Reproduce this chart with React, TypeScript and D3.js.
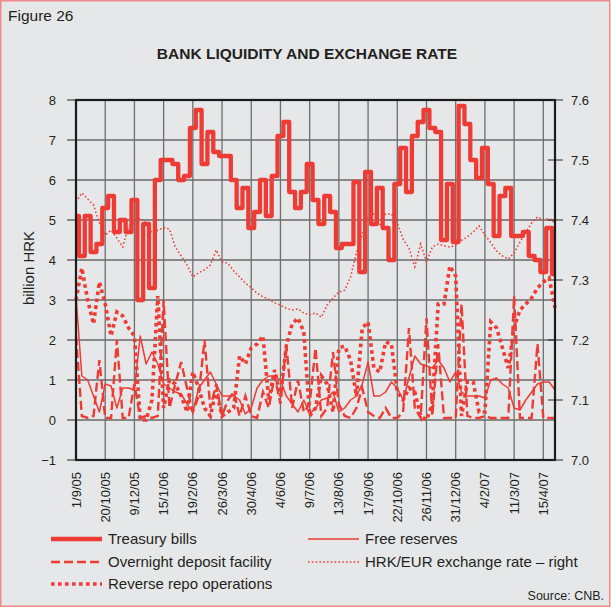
import React from 'react';
import * as d3 from 'd3';

// x-axis: categorical positions, tick every 5 observations
const dateLabels = ['1/9/05', '20/10/05', '9/12/05', '15/1/06', '19/2/06', '26/3/06', '30/4/06', '4/6/06', '9/7/06', '13/8/06', '17/9/06', '22/10/06', '26/11/06', '31/12/06', '4/2/07', '11/3/07', '15/4/07'];
const leftTicks = [-1, 0, 1, 2, 3, 4, 5, 6, 7, 8];
const rightTicks = [7.0, 7.1, 7.2, 7.3, 7.4, 7.5, 7.6];

// billion HRK
const treasuryBills = [
  5.1, 4.1, 5.1, 4.2, 4.4, 5.3, 5.6, 4.7, 5.0, 4.7,
  5.5, 3.0, 4.9, 3.3, 6.0, 6.5, 6.5, 6.4, 6.0, 6.1,
  7.3, 7.75, 6.4, 7.2, 6.7, 6.6, 6.6, 6.0, 5.3, 5.8,
  4.8, 5.2, 6.0, 5.1, 6.1, 7.1, 7.45, 5.7, 5.3, 5.7,
  6.4, 5.5, 4.9, 5.6, 5.2, 4.3, 4.4, 4.4, 5.95, 3.7,
  6.2, 4.9, 5.8, 4.8, 4.0, 5.9, 6.8, 5.7, 7.1, 7.45,
  7.75, 7.3, 7.2, 4.5, 5.9, 4.45, 7.85, 7.4, 6.5, 6.05,
  6.8, 5.9, 4.6, 5.6, 5.8, 4.6, 4.6, 4.7, 4.1, 4.0,
  3.7, 4.8, 3.65,
];
const freeReserves = [
  3.1, 1.1, 1.0, 0.6, 0.2, 0.9, 0.85, 0.3, 0.8, 0.8,
  0.75, 2.1, 1.4, 1.7, 1.4, 0.9, 0.8, 0.7, 0.65, 0.4,
  0.2, 0.8, 1.0, 1.2, 0.9, 0.6, 0.6, 0.6, 0.5, 0.15,
  0.3, 0.8, 1.0, 1.1, 1.1, 1.0, 0.6, 0.4, 0.2, 0.5,
  0.15, 0.3, 0.5, 0.55, 0.7, 0.2, 0.3, 0.5, 0.6, 0.9,
  1.45, 0.6, 0.6, 0.7, 0.95, 0.8, 0.5, 1.05, 1.6, 1.4,
  1.35, 1.3, 1.5, 1.3, 0.95, 1.2, 0.7, 0.6, 0.6, 0.6,
  0.55, 1.0, 1.05, 0.9, 0.8, 0.3, 0.25, 0.5, 0.7, 0.9,
  0.95, 0.95, 0.75,
];
const overnightDeposit = [
  2.1, 0.1, 0.05, 0.1, 1.5, 0.05, 0.05, 2.0, 0.05, 0.05,
  0.9, 0.05, 0.1, 0.05, 0.1, 3.0, 0.3, 0.9, 1.45, 0.8,
  0.2, 0.6, 2.0, 0.3, 0.9, 0.1, 0.5, 0.7, 0.1, 0.6,
  0.1, 0.05, 0.7, 0.3, 1.1, 0.4, 1.9, 0.3, 1.0, 0.2,
  0.4, 1.8, 0.1, 0.3, 1.7, 0.4, 0.1, 0.05, 0.3, 0.8,
  0.2, 0.1, 0.05, 0.3, 0.05, 0.05, 0.2, 2.3, 0.3, 0.05,
  2.55, 0.1, 1.9, 0.05, 0.05, 0.05, 2.9, 0.1, 0.05, 0.05,
  0.1, 0.05, 0.05, 0.05, 0.05, 3.1, 0.05, 0.05, 0.05, 1.9,
  0.05, 0.05, 0.05,
];
const reverseRepo = [
  3.0, 3.8, 3.0, 2.4, 3.45, 2.9, 2.1, 2.7, 2.6, 2.3,
  2.1, 0.0, 0.0, 0.5, 3.1, 0.3, 1.0, 0.9, 0.6, 0.2,
  1.2, 0.8, 0.3, 0.1, 0.75, 0.1, 0.2, 0.3, 1.6, 1.4,
  1.8, 1.9, 2.1, 0.5, 1.25, 0.6, 1.85, 2.4, 2.55, 2.2,
  0.1, 0.3, 1.1, 0.9, 0.2, 1.8, 1.85, 1.5, 0.6, 2.3,
  2.45, 1.3, 1.2, 1.95, 1.9, 0.7, 0.5, 0.8, 0.7, 0.1,
  0.0, 0.4, 2.9, 2.9, 3.85, 3.6, 0.1, 0.95, 0.95, 0.2,
  0.2, 2.45, 2.3, 1.8, 1.3, 2.3, 2.75, 2.9, 3.05, 3.3,
  3.45, 3.55, 2.8,
];
// HRK/EUR (right axis)
const exchangeRate = [
  7.43, 7.445, 7.435, 7.425, 7.395, 7.375, 7.383, 7.37, 7.355, 7.39,
  7.395, 7.403, 7.395, 7.378, 7.383, 7.387, 7.385, 7.355, 7.34, 7.325,
  7.305, 7.312, 7.317, 7.325, 7.35, 7.33, 7.328, 7.315, 7.305, 7.295,
  7.287, 7.278, 7.272, 7.268, 7.262, 7.258, 7.253, 7.25, 7.252, 7.245,
  7.242, 7.245, 7.238, 7.258, 7.27, 7.28, 7.283, 7.305, 7.345, 7.375,
  7.405, 7.41, 7.39, 7.41, 7.41, 7.395, 7.368, 7.353, 7.322, 7.36,
  7.33, 7.355, 7.36, 7.357, 7.355, 7.358, 7.366, 7.372, 7.38, 7.39,
  7.375, 7.362, 7.348, 7.34, 7.335, 7.345, 7.363, 7.38, 7.395, 7.405,
  7.4, 7.403, 7.395,
];

const legendItems = [
  { label: 'Treasury bills', col: 0, row: 0, kind: 'tb' },
  { label: 'Free reserves', col: 1, row: 0, kind: 'fr' },
  { label: 'Overnight deposit facility', col: 0, row: 1, kind: 'od' },
  { label: 'HRK/EUR exchange rate \u2013 right', col: 1, row: 1, kind: 'er' },
  { label: 'Reverse repo operations', col: 0, row: 2, kind: 'rr' },
];

const RED = '#ee3b33';
const FONT = '"Liberation Sans", Arial, Helvetica, sans-serif';

const styles: Record<string, { w: number; dash?: string }> = {
  tb: { w: 4.3 },
  fr: { w: 1.5 },
  od: { w: 2.4, dash: '9,4' },
  er: { w: 1.5, dash: '1.6,2.2' },
  rr: { w: 3.6, dash: '3.6,3.4' },
};

export default function App() {
  const W = 611;
  const H = 608;
  const left = 76, right = 555, top = 100, bottom = 460;
  const x = d3.scaleLinear().domain([0, 82]).range([left, right]);
  const yL = d3.scaleLinear().domain([-1, 8]).range([bottom, top]);
  const yR = d3.scaleLinear().domain([7.0, 7.6]).range([bottom, top]);

  const lineL = d3.line<number>().x((_, i) => x(i)).y((d) => yL(d)).curve(d3.curveLinear);
  const stepL = d3.line<number>().x((_, i) => x(i)).y((d) => yL(d)).curve(d3.curveStep);
  const lineR = d3.line<number>().x((_, i) => x(i)).y((d) => yR(d)).curve(d3.curveLinear);

  const xTickIdx = dateLabels.map((_, i) => i * 5);

  const colX = [51, 308];
  const textX = [108, 365];
  const rowY = [539, 562, 584];

  return (
    <svg width={W} height={H} style={{ position: 'absolute', left: 0, top: 0, display: 'block' }} fontFamily={FONT}>
      <rect x={0} y={0} width={W} height={H} fill="#ffffff" />
      <rect x={0.75} y={0.75} width={609} height={605.5} fill="#e6e7e9" stroke="#f08a86" strokeWidth={1.5} />

      <text x={8} y={21} fontSize={15.5} fill="#231f20">Figure 26</text>
      <text x={307} y={59} fontSize={15.5} fontWeight="bold" textAnchor="middle" fill="#231f20">
        BANK LIQUIDITY AND EXCHANGE RATE
      </text>

      {/* horizontal grid */}
      {leftTicks.map((t) => (
        <line key={'hg' + t} x1={left} x2={right} y1={yL(t)} y2={yL(t)} stroke="#2b2b2b" strokeWidth={1} />
      ))}
      {/* vertical grid */}
      {xTickIdx.map((t) => (
        <line key={'vg' + t} x1={x(t)} x2={x(t)} y1={top} y2={bottom} stroke="#6e6e6e" strokeWidth={1.3} />
      ))}

      {/* left ticks & labels */}
      {leftTicks.map((t) => (
        <g key={'lt' + t}>
          <line x1={67} x2={left} y1={yL(t)} y2={yL(t)} stroke="#2b2b2b" strokeWidth={1} />
          <text x={56} y={yL(t)} dy="0.35em" fontSize={13} textAnchor="end" fill="#231f20">
            {t < 0 ? '\u2212' + Math.abs(t) : String(t)}
          </text>
        </g>
      ))}
      {/* right ticks & labels */}
      {rightTicks.map((t) => (
        <g key={'rt' + t}>
          <line x1={548} x2={563} y1={yR(t)} y2={yR(t)} stroke="#2b2b2b" strokeWidth={1} />
          <text x={571} y={yR(t)} dy="0.35em" fontSize={13} textAnchor="start" fill="#231f20">
            {t.toFixed(1)}
          </text>
        </g>
      ))}
      {/* x labels */}
      {xTickIdx.map((t, i) => (
        <text
          key={'xl' + t}
          transform={`translate(${x(t)},472) rotate(-90)`}
          dy="0.35em"
          fontSize={13}
          textAnchor="end"
          fill="#231f20"
        >
          {dateLabels[i]}
        </text>
      ))}

      <text transform="translate(29,268) rotate(-90)" dy="0.35em" fontSize={15} textAnchor="middle" fill="#231f20">
        billion HRK
      </text>

      {/* series */}
      <path d={stepL(treasuryBills) || ''} fill="none" stroke={RED} strokeWidth={styles.tb.w} strokeLinejoin="round" />
      <path d={lineL(reverseRepo) || ''} fill="none" stroke={RED} strokeWidth={styles.rr.w} strokeDasharray={styles.rr.dash} />
      <path d={lineL(overnightDeposit) || ''} fill="none" stroke={RED} strokeWidth={styles.od.w} strokeDasharray={styles.od.dash} />
      <path d={lineL(freeReserves) || ''} fill="none" stroke={RED} strokeWidth={styles.fr.w} strokeLinejoin="round" />
      <path d={lineR(exchangeRate) || ''} fill="none" stroke={RED} strokeWidth={styles.er.w} strokeDasharray={styles.er.dash} />

      {/* frame */}
      <rect x={left} y={top} width={right - left} height={bottom - top} fill="none" stroke="#1c1c1c" strokeWidth={2.2} />

      {/* legend */}
      {legendItems.map((it) => {
        const s = styles[it.kind];
        const y = rowY[it.row];
        return (
          <g key={it.label}>
            <line x1={colX[it.col]} x2={colX[it.col] + 51} y1={y} y2={y} stroke={RED} strokeWidth={s.w} strokeDasharray={s.dash} />
            <text x={textX[it.col]} y={y} dy="0.35em" fontSize={15} fill="#231f20">
              {it.label}
            </text>
          </g>
        );
      })}

      <text x={604} y={600} fontSize={12.5} textAnchor="end" fill="#231f20">Source: CNB.</text>
    </svg>
  );
}
